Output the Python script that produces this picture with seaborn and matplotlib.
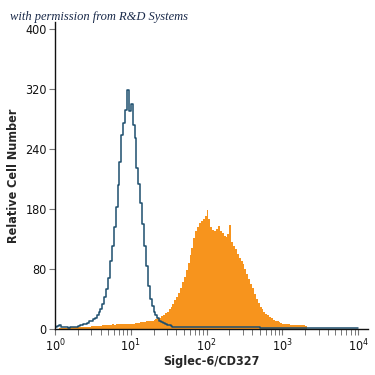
import numpy as np
import pandas as pd
import matplotlib
matplotlib.use("Agg")
import matplotlib.pyplot as plt
import seaborn as sns
from matplotlib.ticker import FixedLocator, LogLocator, NullFormatter, FuncFormatter

# histogram channels: log10 bin width 0.025 from 10^0 to 10^4 (160 bins)
bin_log_width = 0.025

control_counts = [
    # 10^0 .. 10^0.3
    3, 4, 5, 3, 2, 2, 2, 1, 2, 2, 2, 3,
    # 10^0.3 .. 10^1.55
    4, 5, 5, 6, 7, 8, 10, 11, 13, 15,
    19, 23, 27, 33, 42, 53, 68, 90, 110, 136,
    162, 192, 223, 258, 275, 292, 318, 290, 300, 272,
    255, 215, 193, 168, 140, 110, 84, 57, 40, 30,
    23, 18, 14, 11, 9, 8, 6, 5, 5, 4,
    # 10^1.55 .. 10^2.7
    3, 3, 3, 2, 3, 3, 2, 3, 2, 3,
    3, 2, 2, 3, 2, 2, 3, 2, 2, 2,
    3, 2, 2, 2, 2, 3, 2, 2, 2, 2,
    2, 2, 2, 2, 2, 2, 2, 2, 2, 2,
    2, 2, 2, 2, 2, 2,
    # 10^2.7 .. 10^4
    1, 1, 1, 1, 1, 1, 1, 1, 1, 1,
    1, 1, 1, 1, 1, 1, 1, 1, 1, 1,
    1, 1, 1, 1, 1, 1, 1, 1, 1, 1,
    1, 1, 1, 1, 1, 1, 1, 1, 1, 1,
    1, 1, 1, 1, 1, 1, 1, 1, 1, 1,
    1, 1,
]

stained_counts = [
    # 10^0 .. 10^1.3
    0, 0, 1, 1, 1, 1, 1, 2, 2, 2, 2, 2,
    2, 3, 3, 3, 3, 3, 3, 4, 4, 4, 4, 4,
    4, 5, 5, 5, 5, 5, 6, 5, 6, 6, 6, 6, 7, 6, 7, 7,
    7, 7, 8, 8, 8, 9, 9, 9, 10, 10, 11, 11,
    # 10^1.3 .. 10^3.325
    12, 13, 14, 15, 17, 19, 21, 23, 26, 29,
    33, 38, 43, 48, 55, 62, 69, 78, 88, 98,
    108, 121, 130, 136, 141, 144, 147, 150, 158, 146,
    136, 132, 131, 133, 137, 131, 128, 124, 122, 126,
    139, 116, 111, 106, 100, 95, 90, 86, 80, 73,
    67, 60, 54, 47, 40, 34, 29, 26, 23, 20,
    18, 16, 14, 12, 11, 10, 9, 8, 7, 7,
    6, 6, 5, 5, 5, 5, 5, 5, 5, 5,
    4,
    # 10^3.325 .. 10^4
    0, 0, 0, 0, 0, 0, 0, 0, 0, 0,
    0, 0, 0, 0, 0, 0, 0, 0, 0, 0,
    0, 0, 0, 0, 0, 0, 0,
]

y_tick_values = [0, 80, 160, 240, 320, 400]
y_tick_labels = ["0", "80", "180", "240", "320", "400"]
x_label = "Siglec-6/CD327"
y_label = "Relative Cell Number"
credit = "with permission from R&D Systems"

n = len(control_counts)
centers = 10 ** ((np.arange(n) + 0.5) * bin_log_width)
df = pd.DataFrame({"x": centers, "control": control_counts, "stained": stained_counts})

sns.set_style("ticks")
plt.rcParams["font.family"] = ["Liberation Sans Narrow", "DejaVu Sans"]
plt.rcParams["font.stretch"] = "condensed"

fig = plt.figure(figsize=(3.75, 3.75), dpi=100)
ax = fig.add_axes([0.1467, 0.1227, 0.9813 - 0.1467, 0.941 - 0.1227])

common = dict(x="x", log_scale=True, binwidth=bin_log_width,
              binrange=(0, n * bin_log_width), element="step", ax=ax)
sns.histplot(data=df, weights="stained", fill=True, color="#F7941D",
             alpha=1.0, linewidth=0, **common)
sns.histplot(data=df, weights="control", fill=False, color="#1D4E6E",
             linewidth=1.1, **common)

ax.set_xlim(1, 10 ** 4.13)
ax.set_ylim(0, 409)
ax.set_yticks(y_tick_values)
ax.set_yticklabels(y_tick_labels)
ax.xaxis.set_major_locator(FixedLocator([1, 10, 100, 1000, 10000]))
ax.xaxis.set_major_formatter(FuncFormatter(lambda v, p: r"$10^{%d}$" % round(np.log10(v))))
ax.xaxis.set_minor_locator(LogLocator(base=10, subs=np.arange(2, 10)))
ax.xaxis.set_minor_formatter(NullFormatter())

sns.despine(ax=ax)
for s in ("left", "bottom"):
    ax.spines[s].set_linewidth(1.0)
    ax.spines[s].set_color("#111111")
ax.tick_params(axis="both", which="major", length=4, width=0.8, color="#777777",
               labelsize=9, pad=2, labelcolor="#111111")
ax.tick_params(axis="x", which="minor", length=4, width=0.7, color="#777777")
ax.set_xlabel(x_label, fontsize=9, fontweight="bold", labelpad=1)
ax.set_ylabel(y_label, fontsize=9, fontweight="bold", labelpad=4)
ax.grid(False)

fig.text(0.027, 0.955, credit, fontsize=9, style="italic", family="Liberation Serif",
         color="#1a2a4a", ha="left", va="center")

fig.savefig("out.png", dpi=100, facecolor="white")
